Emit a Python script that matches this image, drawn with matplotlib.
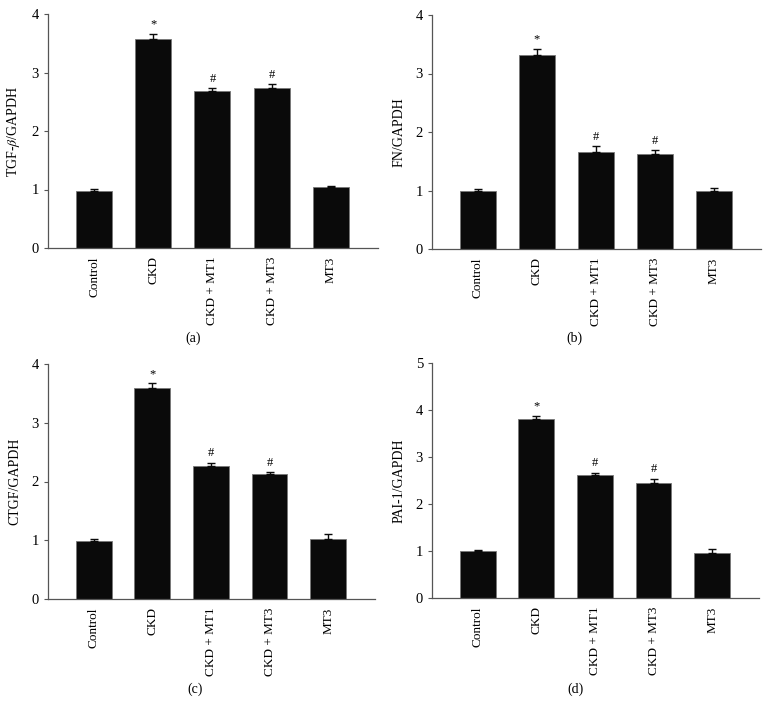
import numpy as np
import matplotlib.pyplot as plt

plt.rcParams['font.family'] = ['Liberation Serif', 'DejaVu Serif']
plt.rcParams['mathtext.fontset'] = 'stix'

groups = ['Control', 'CKD', 'CKD + MT1', 'CKD + MT3', 'MT3']
marks = ['', '*', '#', '#', '']

tgf_mean = [0.98, 3.58, 2.69, 2.74, 1.04]
tgf_err = [0.03, 0.08, 0.04, 0.06, 0.02]
fn_mean = [1.00, 3.31, 1.65, 1.62, 0.99]
fn_err = [0.03, 0.11, 0.11, 0.07, 0.05]
ctgf_mean = [0.99, 3.59, 2.27, 2.13, 1.02]
ctgf_err = [0.03, 0.08, 0.05, 0.03, 0.08]
pai_mean = [0.99, 3.80, 2.62, 2.45, 0.96]
pai_err = [0.03, 0.08, 0.04, 0.09, 0.08]

W, H = 768, 714
fig = plt.figure(figsize=(W / 100, H / 100), dpi=100)

panels = [
    # (mean, err, ylabel, ymax, tag, left, right, top, bottom, tag_x, tag_y)
    (tgf_mean, tgf_err, r'TGF-$\mathit{\beta}$/GAPDH', 4, '(a)', 48, 378, 14, 248, 193, 338),
    (fn_mean, fn_err, 'FN/GAPDH', 4, '(b)', 432, 761, 15, 249, 574, 338),
    (ctgf_mean, ctgf_err, 'CTGF/GAPDH', 4, '(c)', 48, 375, 364, 599, 195, 689),
    (pai_mean, pai_err, 'PAI-1/GAPDH', 5, '(d)', 432, 759, 363, 598, 576, 689),
]

grey = '#555555'
for mean, err, ylab, ymax, tag, l, r, t, b, tx, ty in panels:
    ax = fig.add_axes([l / W, 1 - b / H, (r - l) / W, (b - t) / H])
    x = np.arange(len(groups))
    ax.bar(x, mean, width=0.61, color='#0a0a0a', edgecolor='#777777', linewidth=0.6,
           yerr=[np.zeros(len(err)), err], capsize=3,
           error_kw=dict(ecolor='#0a0a0a', elinewidth=1, capthick=1))
    for xi, m, e, s in zip(x, mean, err, marks):
        if s:
            ax.text(xi, m + e + 0.06 * ymax / 4, s, ha='center', va='bottom', fontsize=9)
    ax.set_xlim(-0.78, 4.8)
    ax.set_ylim(0, ymax)
    ax.set_yticks(range(ymax + 1))
    ax.set_xticks(x)
    ax.set_xticklabels(groups, rotation=90, fontsize=9.5)
    ax.tick_params(axis='x', length=0, pad=6)
    ax.tick_params(axis='y', length=3, width=0.8, color=grey, labelsize=10.5)
    for sp in ['top', 'right']:
        ax.spines[sp].set_visible(False)
    for sp in ['left', 'bottom']:
        ax.spines[sp].set_color(grey)
        ax.spines[sp].set_linewidth(0.9)
    ax.set_ylabel(ylab, fontsize=10)
    ax.yaxis.set_label_coords(-0.08, 0.5)
    fig.text(tx / W, 1 - ty / H, tag, ha='center', va='center', fontsize=10)

fig.savefig('out.png', dpi=100)
